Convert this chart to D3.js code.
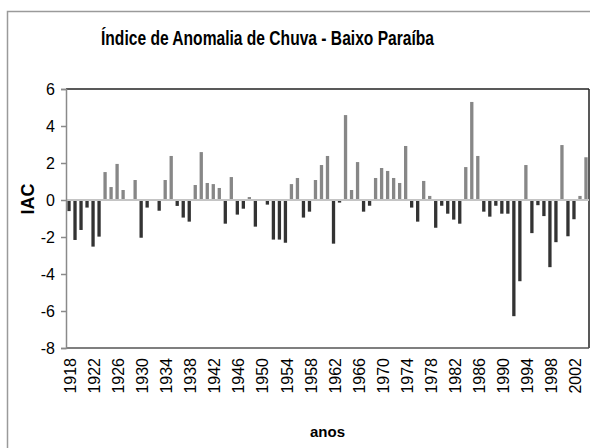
<!DOCTYPE html>
<html>
<head>
<meta charset="utf-8">
<script src="https://cdn.jsdelivr.net/npm/d3@7"></script>
<style>
  html, body { margin: 0; padding: 0; background: #fff; }
  svg { display: block; }
  text { font-family: "Liberation Sans", Arial, sans-serif; fill: #000; }
</style>
</head>
<body>
<svg id="chart" width="590" height="448"></svg>
<script>
// ---- data ----
const years = d3.range(1918, 2005).map(String);
const iac = [
  -0.60, -2.16, -1.62, -0.41, -2.52, -1.98, 1.51, 0.70, 1.95, 0.54,
   0.00, 1.08, -2.04, -0.41, 0.00, -0.58, 1.08, 2.38, -0.32, -0.95,
  -1.17, 0.81, 2.59, 0.92, 0.86, 0.65, -1.28, 1.24, -0.79, -0.47,
   0.16, -1.44, 0.00, -0.25, -2.14, -2.14, -2.31, 0.86, 1.19, -0.95,
  -0.63, 1.08, 1.89, 2.38, -2.36, -0.14, 4.59, 0.54, 2.05, -0.63,
  -0.31, 1.19, 1.73, 1.57, 1.19, 0.92, 2.92, -0.41, -1.17, 1.03,
   0.22, -1.50, -0.31, -0.74, -1.06, -1.28, 1.78, 5.30, 2.38, -0.63,
  -0.90, -0.31, -0.74, -0.74, -6.28, -4.39, 1.89, -1.79, -0.28, -0.87,
  -3.63, -2.28, 2.97, -1.96, -1.04, 0.22, 2.31
];
const yTicks = [-8, -6, -4, -2, 0, 2, 4, 6];
const xTickLabels = d3.range(1918, 2003, 4).map(String);
const title = "Índice de Anomalia de Chuva - Baixo Paraíba";
const yTitle = "IAC";
const xTitle = "anos";

// ---- layout ----
const svg = d3.select("#chart");
const L = 66, R = 589, T = 89, B = 348;

const x = d3.scaleBand().domain(years).range([L, R]).paddingInner(0.45).paddingOuter(0.225);
const y = d3.scaleLinear().domain([-8, 6]).range([B, T]);

// outer chart frame
svg.append("rect").attr("x", 7.5).attr("y", 11.5).attr("width", 600).attr("height", 460)
  .attr("fill", "#fff").attr("stroke", "#9a9a9a").attr("stroke-width", 1.5);

// title
svg.append("text").attr("x", 267.5).attr("y", 45).attr("text-anchor", "middle")
  .attr("font-size", 21).attr("font-weight", "bold")
  .attr("textLength", 333).attr("lengthAdjust", "spacingAndGlyphs")
  .text(title);

// plot border
svg.append("line").attr("x1", L).attr("x2", R).attr("y1", T).attr("y2", T)
  .attr("stroke", "#222").attr("stroke-width", 1.5);
svg.append("line").attr("x1", R).attr("x2", R).attr("y1", T).attr("y2", B)
  .attr("stroke", "#222").attr("stroke-width", 1.5);
svg.append("line").attr("x1", L).attr("x2", R).attr("y1", B).attr("y2", B)
  .attr("stroke", "#555").attr("stroke-width", 1.5);

// bars
const data = years.map((yr, i) => ({ year: yr, v: iac[i] }));
svg.append("g").selectAll("rect").data(data).join("rect")
  .attr("x", d => x(d.year))
  .attr("width", x.bandwidth())
  .attr("y", d => y(Math.max(0, d.v)))
  .attr("height", d => Math.abs(y(d.v) - y(0)))
  .attr("fill", d => d.v >= 0 ? "#878787" : "#333333");

// zero line (category axis)
svg.append("line").attr("x1", L).attr("x2", R).attr("y1", y(0)).attr("y2", y(0))
  .attr("stroke", "#c4c4c4").attr("stroke-width", 2);

// y axis
const yAxis = svg.append("g").attr("transform", `translate(${L},0)`)
  .call(d3.axisLeft(y).tickValues(yTicks).tickSize(5).tickPadding(6).tickFormat(d => String(d)));
yAxis.select(".domain").attr("stroke", "#8a8a8a").attr("stroke-width", 1.5);
yAxis.selectAll(".tick line").attr("stroke", "#8a8a8a").attr("stroke-width", 1.5);
yAxis.selectAll(".tick text").attr("font-size", 16).attr("fill", "#000")
  .attr("font-family", "'Liberation Sans', Arial, sans-serif");

// x axis labels (rotated)
const xAxis = svg.append("g").attr("transform", `translate(0,${B})`)
  .call(d3.axisBottom(x).tickValues(xTickLabels).tickSize(0).tickPadding(0));
xAxis.select(".domain").remove();
xAxis.selectAll(".tick text")
  .attr("font-size", 16).attr("fill", "#000")
  .attr("font-family", "'Liberation Sans', Arial, sans-serif")
  .attr("text-anchor", "end")
  .attr("transform", "translate(1.5,10) rotate(-90)")
  .attr("x", 0).attr("y", 0).attr("dy", "0.35em");

// axis titles
svg.append("text").attr("transform", "translate(34,199) rotate(-90)")
  .attr("text-anchor", "middle").attr("font-size", 18).attr("font-weight", "bold")
  .text(yTitle);
svg.append("text").attr("x", 327.5).attr("y", 437).attr("text-anchor", "middle")
  .attr("font-size", 15).attr("font-weight", "bold")
  .text(xTitle);
</script>
</body>
</html>
